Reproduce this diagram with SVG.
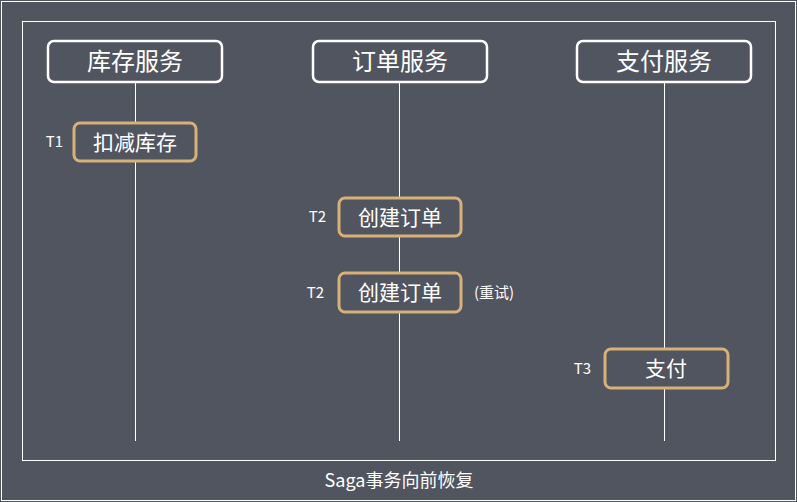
<svg xmlns="http://www.w3.org/2000/svg" width="797" height="502" viewBox="0 0 797 502">
<style>
text{font-family:"Noto Sans CJK SC","Noto Sans",sans-serif;fill:#fff}
.h{fill:none;stroke:#fff;stroke-width:2.5}
.s{fill:#51555f;stroke:#d8b079;stroke-width:3}
.l{stroke:#fff;stroke-width:1}
.ht{font-size:24px;text-anchor:middle}
.st{font-size:21px;text-anchor:middle}
.t{font-size:15px;text-anchor:end}
</style>
<rect width="797" height="502" fill="#51555f"/>
<rect x="1.5" y="1.5" width="794" height="499" fill="none" stroke="#fff" stroke-width="1"/>
<rect x="22.5" y="21.5" width="753" height="439" fill="none" stroke="#fff" stroke-width="1"/>
<g id="connectors">
<line class="l" x1="135.5" y1="82" x2="135.5" y2="441"/>
<line class="l" x1="399.5" y1="82" x2="399.5" y2="441"/>
<line class="l" x1="664.5" y1="82" x2="664.5" y2="441"/>
</g>
<g id="inv"><rect class="h" x="48" y="41" width="174" height="41" rx="6"/><text class="ht" x="135" y="70">库存服务</text></g>
<g id="ord"><rect class="h" x="313" y="41" width="174" height="41" rx="6"/><text class="ht" x="400" y="70">订单服务</text></g>
<g id="pay"><rect class="h" x="577" y="41" width="174" height="41" rx="6"/><text class="ht" x="664" y="70">支付服务</text></g>
<g id="t1"><rect class="s" x="74" y="123" width="122" height="38" rx="6"/><text class="st" x="135" y="150">扣减库存</text><text class="t" x="63" y="147">T1</text></g>
<g id="t2"><rect class="s" x="339" y="198" width="122" height="38" rx="6"/><text class="st" x="400" y="225">创建订单</text><text class="t" x="326" y="222">T2</text></g>
<g id="t2r"><rect class="s" x="339" y="273" width="122" height="39" rx="6"/><text class="st" x="400" y="300">创建订单</text><text class="t" x="324" y="298">T2</text><text x="474" y="298" style="font-size:15px">(重试)</text></g>
<g id="t3"><rect class="s" x="605" y="349" width="123" height="39" rx="6"/><text class="st" x="666" y="376">支付</text><text class="t" x="591" y="374">T3</text></g>
<text x="399" y="487" style="font-size:18px;text-anchor:middle">Saga事务向前恢复</text>
</svg>
